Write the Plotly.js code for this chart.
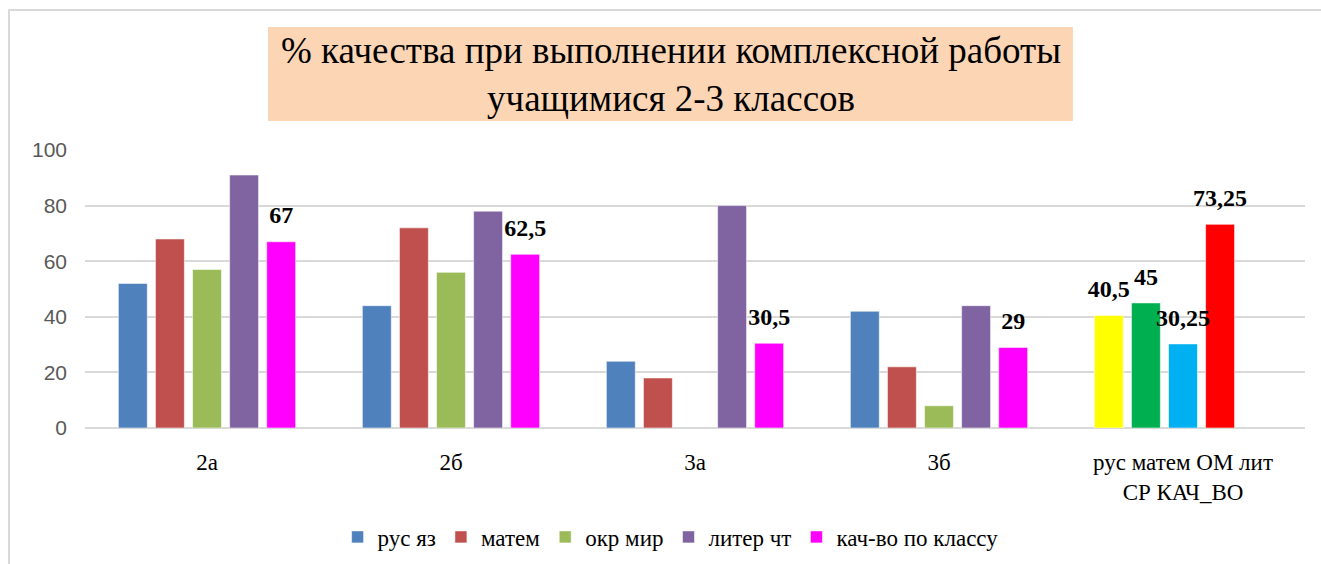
<!DOCTYPE html>
<html>
<head>
<meta charset="utf-8">
<script src="https://cdn.plot.ly/plotly-3.0.1.min.js"></script>
<style>
html,body{margin:0;padding:0;background:#fff;}
#chart{width:1321px;height:564px;}
</style>
</head>
<body>
<div id="chart"></div>
<script>
const categories = ["2а", "2б", "3а", "3б", "рус матем ОМ лит<br>СР КАЧ_ВО"];
const seriesNames = ["рус яз", "матем", "окр мир", "литер чт", "кач-во по классу"];
const rusYaz  = [52, 44, 24, 42, 40.5];
const matem   = [68, 72, 18, 22, 45];
const okrMir  = [57, 56, null, 8, 30.25];
const literCht = [91, 78, 80, 44, 73.25];
const kachVo  = [67, 62.5, 30.5, 29, null];
// which points carry a data label
const labelRus = [false, false, false, false, true];
const labelMat = [false, false, false, false, true];
const labelOkr = [false, false, false, false, true];
const labelLit = [false, false, false, false, true];
const labelKach = [true, true, true, true, false];

const baseColors = ["#4F81BD", "#C0504D", "#9BBB59", "#8064A2", "#FF00FF"];
const summaryColors = ["#FFFF00", "#00B050", "#00B0F0", "#FF0000", "#FF00FF"];

const serif = '"Liberation Serif", "Times New Roman", serif';

function fmt(v){ return v == null ? "" : String(v).replace(".", ","); }

const seriesValues = [rusYaz, matem, okrMir, literCht, kachVo];
const seriesLabels = [labelRus, labelMat, labelOkr, labelLit, labelKach];

const barTraces = seriesValues.map((vals, s) => ({
  type: "bar",
  name: seriesNames[s],
  x: categories,
  y: vals,
  marker: {
    color: vals.map((v, i) => i === categories.length - 1 ? summaryColors[s] : baseColors[s]),
    line: {color: "rgba(255,255,255,0.55)", width: 1}
  },
  hoverinfo: "x+y+name"
}));

const labelTraces = seriesValues.map((vals, s) => ({
  type: "scatter",
  mode: "markers+text",
  name: seriesNames[s] + " labels",
  showlegend: false,
  hoverinfo: "skip",
  x: categories,
  y: vals.map((v, i) => seriesLabels[s][i] ? v : null),
  text: vals.map((v, i) => seriesLabels[s][i] ? fmt(v) : ""),
  textposition: "top center",
  cliponaxis: false,
  marker: {size: 18, opacity: 0},
  textfont: {family: serif, size: 24, color: "#000", weight: "bold"}
}));

const layout = {
  width: 1321,
  height: 564,
  margin: {l: 85, r: 16, t: 150, b: 136, autoexpand: false},
  paper_bgcolor: "#fff",
  plot_bgcolor: "#fff",
  barmode: "group",
  bargap: 0.24,
  bargroupgap: 0.22,
  scattermode: "group",
  scattergap: 0.24,
  showlegend: true,
  legend: {
    orientation: "h",
    x: 0.48, xanchor: "center",
    yref: "container",
    y: 0.048, yanchor: "middle",
    font: {family: serif, size: 23, color: "#000"},
    itemwidth: 30,
    traceorder: "normal"
  },
  xaxis: {
    type: "category",
    automargin: false,
    showgrid: false,
    showline: false,
    zeroline: false,
    ticks: "",
    ticklabelstandoff: 18,
    tickfont: {family: serif, size: 23, color: "#000"}
  },
  yaxis: {
    range: [0, 100],
    automargin: false,
    dtick: 20,
    showgrid: true,
    gridcolor: "#D9D9D9",
    gridwidth: 1.5,
    zeroline: true,
    zerolinecolor: "#D9D9D9",
    zerolinewidth: 1.5,
    showline: false,
    ticks: "",
    ticklabelstandoff: 17,
    tickfont: {family: '"Liberation Sans", Arial, sans-serif', size: 21, color: "#595959"}
  },
  shapes: [
    {type: "rect", xref: "paper", yref: "paper",
     x0: 0.15, x1: 0.8098, y0: 1.104, y1: 1.442,
     fillcolor: "#FCD5B5", line: {width: 0}, layer: "below"},
    {type: "path", xref: "paper", yref: "paper",
     path: "M -0.0623 -0.5 L -0.0623 1.5036 L 1.02 1.5036",
     line: {color: "#D9D9D9", width: 2}}
  ],
  annotations: [
    {xref: "paper", yref: "paper", x: 0.48, y: 1.27, xanchor: "center", yanchor: "middle",
     text: "% качества при выполнении комплексной работы<br>учащимися 2-3 классов",
     showarrow: false, align: "center",
     font: {family: serif, size: 37, color: "#000"}}
  ]
};

Plotly.newPlot("chart", barTraces.concat(labelTraces), layout, {displayModeBar: false, responsive: false});
</script>
</body>
</html>
